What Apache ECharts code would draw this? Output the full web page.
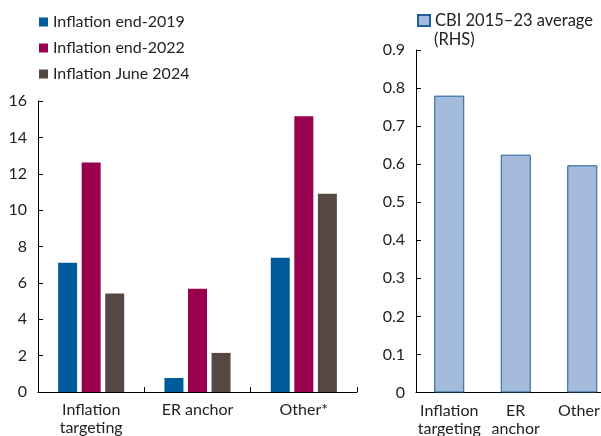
<!DOCTYPE html>
<html><head><meta charset="utf-8">
<script src="https://cdn.jsdelivr.net/npm/echarts@6/dist/echarts.min.js"></script>
<style>html,body{margin:0;padding:0;background:#fff}#c{width:601px;height:436px}</style>
</head><body><div id="c"></div>
<script>
var categories = ['Inflation\ntargeting', 'ER anchor', 'Other*'];
var rightCategories = ['Inflation\ntargeting', 'ER\nanchor', 'Other*'];
var infl2019 = [7.1, 0.77, 7.38];
var infl2022 = [12.62, 5.68, 15.16];
var infl2024 = [5.42, 2.15, 10.9];
var cbiAvg = [0.78, 0.625, 0.597];
var leftTicks = [0, 2, 4, 6, 8, 10, 12, 14, 16];
var rightTicks = [0, 0.1, 0.2, 0.3, 0.4, 0.5, 0.6, 0.7, 0.8, 0.9];

var FONT = 'Lato';
var txt = {fontFamily: FONT, fontSize: 16, color: '#222'};
var axisLine = {show: true, lineStyle: {color: '#000', width: 1}};
var chart = echarts.init(document.getElementById('c'));
chart.setOption({
  animation: false,
  textStyle: {fontFamily: FONT},
  title: {text: '(RHS)', left: 434, top: 31, padding: 0, textStyle: {fontFamily: FONT, fontSize: 16.5, fontWeight: 'normal', color: '#222'}},
  legend: [
    {data: ['Inflation end-2019', 'Inflation end-2022', 'Inflation June 2024'], orient: 'vertical', left: 39, top: 14, padding: 0,
     itemWidth: 9, itemHeight: 9, itemGap: 10, icon: 'rect', textStyle: txt},
    {data: ['CBI 2015–23 average'], left: 417, top: 12, padding: 0, itemWidth: 12, itemHeight: 11, icon: 'rect',
     textStyle: {fontFamily: FONT, fontSize: 16.5, color: '#222'}}
  ],
  grid: [
    {left: 38, top: 101, width: 319, height: 291, outerBoundsMode: 'none', containLabel: false},
    {left: 416, top: 50, width: 199.5, height: 342.5, outerBoundsMode: 'none', containLabel: false}
  ],
  xAxis: [
    {type: 'category', gridIndex: 0, data: categories, axisLine: axisLine,
     axisTick: {show: true, inside: true, length: 5, lineStyle: {color: '#000'}},
     axisLabel: Object.assign({margin: 9, lineHeight: 18, interval: 0}, txt)},
    {type: 'category', gridIndex: 1, data: rightCategories, axisLine: axisLine,
     axisTick: {show: false},
     axisLabel: Object.assign({margin: 9, lineHeight: 18, interval: 0}, txt)}
  ],
  yAxis: [
    {type: 'value', gridIndex: 0, min: leftTicks[0], max: leftTicks[leftTicks.length - 1], interval: 2,
     axisLine: axisLine, axisTick: {show: true, inside: true, length: 5, lineStyle: {color: '#000'}},
     splitLine: {show: false}, axisLabel: Object.assign({margin: 11}, txt)},
    {type: 'value', gridIndex: 1, min: rightTicks[0], max: rightTicks[rightTicks.length - 1], interval: 0.1,
     axisLine: axisLine, axisTick: {show: true, inside: true, length: 5, lineStyle: {color: '#000'}},
     splitLine: {show: false}, axisLabel: Object.assign({margin: 11, formatter: function (v) { return v === 0 ? '0' : v.toFixed(1); }}, txt)}
  ],
  series: [
    {name: 'Inflation end-2019', type: 'bar', xAxisIndex: 0, yAxisIndex: 0, data: infl2019, barWidth: 19, barGap: '24%', itemStyle: {color: '#005b9a'}},
    {name: 'Inflation end-2022', type: 'bar', xAxisIndex: 0, yAxisIndex: 0, data: infl2022, barWidth: 19, barGap: '24%', itemStyle: {color: '#99004d'}},
    {name: 'Inflation June 2024', type: 'bar', xAxisIndex: 0, yAxisIndex: 0, data: infl2024, barWidth: 19, barGap: '24%', itemStyle: {color: '#554842'}},
    {name: 'CBI 2015–23 average', type: 'bar', xAxisIndex: 1, yAxisIndex: 1, data: cbiAvg, barWidth: 30,
     itemStyle: {color: '#a5bbdc', borderColor: '#1f5c99', borderWidth: 1}}
  ]
});
</script></body></html>
